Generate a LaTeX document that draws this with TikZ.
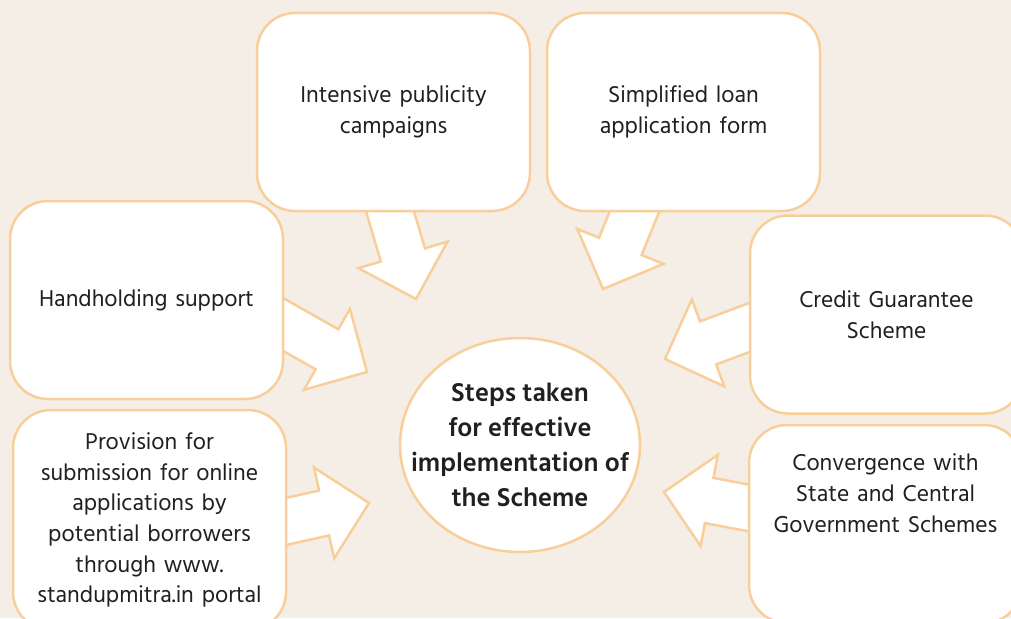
\documentclass[tikz,border=0pt]{standalone}
\usepackage{fontspec}
\setmainfont{Hind Siliguri}
\usetikzlibrary{calc,shapes.geometric,backgrounds}
\definecolor{pagebg}{RGB}{245,238,230}
\definecolor{peach}{RGB}{248,207,155}
\definecolor{inkgray}{RGB}{35,31,32}

\begin{document}
\begin{tikzpicture}[x=1pt,y=-1pt,box/.style={draw=peach,line width=2.5pt,fill=white,rounded corners=38pt,minimum width=273pt,minimum height=198pt,align=center,text width=255pt,text=inkgray,font=\fontsize{23.5}{30.6}\selectfont},hub/.style={ellipse,draw=peach,line width=2.5pt,fill=white,minimum width=240pt,minimum height=214pt,inner xsep=-25pt,inner ysep=0pt,align=center,text=inkgray,font=\fontsize{26.5}{35}\selectfont\bfseries},blockarr/.style={draw=peach,line width=2.5pt,fill=white,to path={($(\tikztostart)!23pt!90:(\tikztotarget)$)--($(\tikztotarget)!51.43pt!-26.57:(\tikztostart)$)--($(\tikztotarget)!65.41pt!-45.31:(\tikztostart)$)--(\tikztotarget)--($(\tikztotarget)!65.41pt!45.31:(\tikztostart)$)--($(\tikztotarget)!51.43pt!26.57:(\tikztostart)$)--($(\tikztostart)!23pt!-90:(\tikztotarget)$)--cycle}}]
\useasboundingbox(0,0)rectangle(1011,618);
\clip(0,0)rectangle(1011,618);
\node[box](pub)at(393.5,112){Intensive publicity\\campaigns};
\node[box](loan)at(683.5,112){Simplified loan\\application form};
\node[box](hand)at(146.5,300){Handholding support};
\node[box,minimum height=220pt](prov)at(149.5,520){Provision for\\submission for online\\applications by\\potential borrowers\\through www.\\standupmitra.in portal};
\node[box](cgs)at(886.5,314.5){Credit Guarantee\\Scheme};
\node[box](conv)at(885.5,524){Convergence with\\State and Central\\Government Schemes\\[31.4pt]\mbox{}};
\node[hub](hub)at(520,445){Steps taken\\for effective\\implementation of\\the Scheme};
\coordinate(pubA)at(386,198);\coordinate(pubB)at(416,299);
\coordinate(loanA)at(640,198);\coordinate(loanB)at(603,289);
\coordinate(handA)at(270,317);\coordinate(handB)at(367,372);
\coordinate(provA)at(270,525);\coordinate(provB)at(369,503);
\coordinate(cgsA)at(764,322);\coordinate(cgsB)at(665,359);
\coordinate(convA)at(765,511);\coordinate(convB)at(664,492);
\begin{pgfonlayer}{background}
\fill[pagebg](0,0)rectangle(1011,618);
\draw[blockarr](pubA)to(pubB);\draw[blockarr](loanA)to(loanB);\draw[blockarr](handA)to(handB);
\draw[blockarr](provA)to(provB);\draw[blockarr](cgsA)to(cgsB);\draw[blockarr](convA)to(convB);
\end{pgfonlayer}
\end{tikzpicture}
\end{document}
